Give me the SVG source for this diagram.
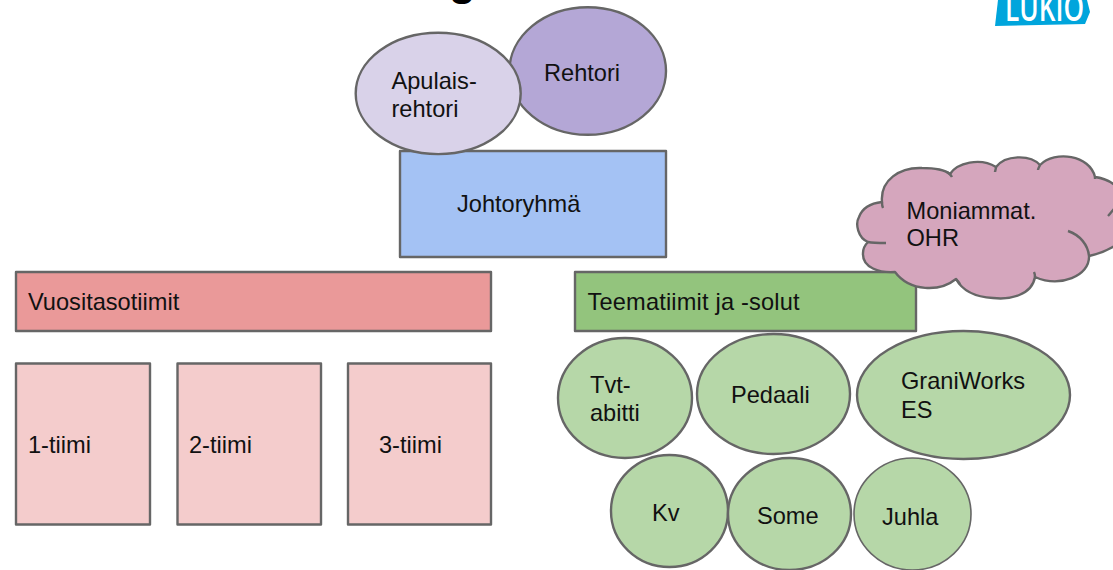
<svg xmlns="http://www.w3.org/2000/svg" width="1113" height="570" viewBox="0 0 1113 570">
<style>
.s{stroke:#666;stroke-width:2.4}
.i{fill:none;stroke:#666;stroke-width:2.4}
text{font-family:"Liberation Sans",Arial,sans-serif;font-size:23.6px;fill:#111}
.r{stroke-linejoin:round}
</style>
<rect width="1113" height="570" fill="#fff"/>
<g id="title"><text x="449" y="-5.500" style="font-size:44px;fill:#000;font-weight:bold">g</text></g>
<g id="logo">
<path d="M998 0L995 26L1085 24L1090 12L1087 0Z" fill="#00a5dc"/>
<text x="1005" y="21" textLength="79" lengthAdjust="spacingAndGlyphs" style="font-family:'Open Sans',sans-serif;font-size:38px;font-weight:600;fill:#fff">LUKIO</text>
</g>
<g id="connectors"></g>
<g id="rehtori"><ellipse class="s" cx="587.7" cy="71" rx="78.3" ry="63.8" fill="#b4a7d6"/><text x="544" y="81">Rehtori</text></g>
<g id="johtoryhma"><rect class="s r" x="400" y="151" width="266" height="106" fill="#a4c2f4"/><text x="457" y="212">Johtoryhmä</text></g>
<g id="apulaisrehtori"><ellipse class="s" cx="438.2" cy="93.4" rx="82.5" ry="60.7" fill="#d9d2e9"/><text x="391.500" y="89">Apulais-</text><text x="391.500" y="117">rehtori</text></g>
<g id="vuositasotiimit"><rect class="s r" x="16" y="272" width="475" height="59" fill="#ea9999"/><text x="28" y="310">Vuositasotiimit</text></g>
<g id="tiimi1"><rect class="s r" x="16" y="363.5" width="134" height="161" fill="#f4cccc"/><text x="28" y="453">1-tiimi</text></g>
<g id="tiimi2"><rect class="s r" x="177.500" y="363.5" width="143.500" height="161" fill="#f4cccc"/><text x="189" y="453">2-tiimi</text></g>
<g id="tiimi3"><rect class="s r" x="348" y="363.5" width="143" height="161" fill="#f4cccc"/><text x="379" y="453">3-tiimi</text></g>
<g id="teematiimit"><rect class="s r" x="575" y="272" width="341" height="59" fill="#93c47d"/><text x="587.500" y="310" textLength="212">Teematiimit ja -solut</text></g>
<g id="moniammat">
<path class="s r" fill="#d5a6bd" d="M882 202C880 180 900 167 922 168C934 168 945 170 950 174C957 163 980 157 996 167C1005 155 1030 154 1040 165C1055 150 1090 155 1095 177C1103 178 1110 181 1116 186L1116 245C1108 250 1098 254 1089 256C1090 276 1060 288 1035 277C1032 295 1010 300 993 298C975 297 962 290 956 279C940 292 910 292 895 272C880 273 862 268 863 253C863 248 865 245 868 242C858 238 855 224 859 217C863 206 873 203 882 202Z"/>
<path class="i" d="M868 242C873 243 880 243 886 243M882 202C882 204 882 206 883 208M947 172C950 174 951 175 952 177M996 167C996 169 995 171 995 172M1040 165C1039 167 1038 169 1038 170M1095 177L1095 179M1068 231C1080 235 1088 245 1089 256M1108 216C1110 214 1112 211 1114 209M1034 272C1035 274 1035 276 1035 277M956 279C958 281 959 282 960 284"/>
<text x="906.500" y="219">Moniammat.</text><text x="906.500" y="246">OHR</text>
</g>
<g id="tvt"><ellipse class="s" cx="625" cy="398" rx="67" ry="60" fill="#b6d7a8"/><text x="590" y="393">Tvt-</text><text x="590" y="421">abitti</text></g>
<g id="pedaali"><ellipse class="s" cx="773.5" cy="394" rx="76.500" ry="60" fill="#b6d7a8"/><text x="731" y="403">Pedaali</text></g>
<g id="graniworks"><ellipse class="s" cx="963.5" cy="395" rx="106.500" ry="64" fill="#b6d7a8"/><text x="901" y="389">GraniWorks</text><text x="901" y="418">ES</text></g>
<g id="kv"><ellipse class="s" cx="669.500" cy="511" rx="58.500" ry="56" fill="#b6d7a8"/><text x="652" y="521">Kv</text></g>
<g id="some"><ellipse class="s" cx="789.500" cy="514" rx="61.500" ry="56" fill="#b6d7a8"/><text x="757" y="524">Some</text></g>
<g id="juhla"><ellipse class="s" cx="912.500" cy="514" rx="58.500" ry="56" fill="#b6d7a8" stroke-width="1.600" style="stroke-width:1.600"/><text x="882" y="525">Juhla</text></g>
</svg>
